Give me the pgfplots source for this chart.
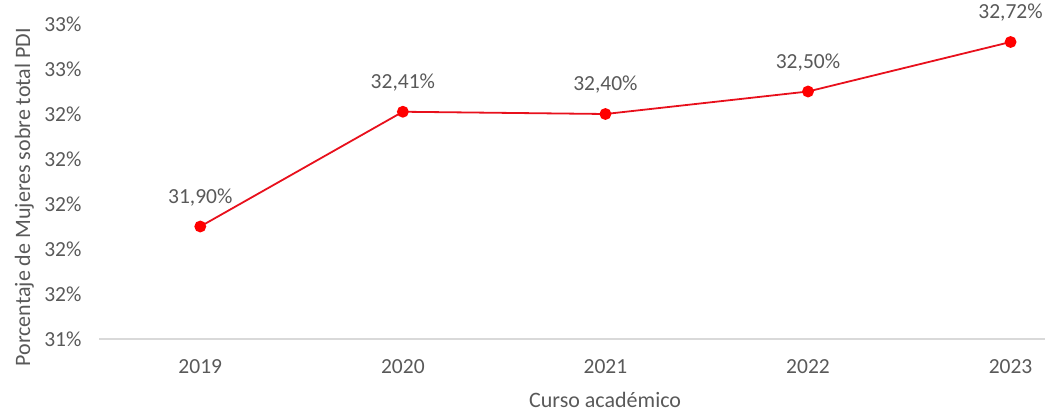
\documentclass[border=0pt]{standalone}
\usepackage{fontspec}
\setmainfont{Carlito}
\usepackage{pgfplots}
\pgfplotsset{compat=1.18}
\definecolor{txt}{HTML}{595959}
\definecolor{axl}{HTML}{D9D9D9}
\definecolor{ln}{HTML}{E8101C}
\begin{document}
\begin{tikzpicture}[x=1pt,y=1pt]
\path[use as bounding box] (0,0) rectangle (1048,413);
\begin{axis}[
  at={(99pt,74pt)}, anchor=south west,
  scale only axis, width=946pt, height=315pt,
  xmin=-0.5, xmax=4.17, ymin=31.4, ymax=32.8,
  axis line style={draw=none},
  xtick={0,1,2,3,4}, xticklabels={2019,2020,2021,2022,2023},
  ytick={31.4,31.6,31.8,32.0,32.2,32.4,32.6,32.8},
  yticklabels={31\%,32\%,32\%,32\%,32\%,32\%,33\%,33\%},
  major tick length=0pt, tick style={draw=none},
  tick label style={font=\fontsize{21.5}{24}\selectfont, text=txt},
  xticklabel style={yshift=-17pt},
  yticklabel style={xshift=-14pt},
  ylabel={Porcentaje de Mujeres sobre total PDI},
  xlabel={Curso académico},
  label style={font=\fontsize{22}{25}\selectfont, text=txt},
  ylabel style={at={(axis description cs:-0.079,0.45)}, anchor=center},
  xlabel style={at={(axis description cs:0.535,-0.194)}, anchor=center},
  nodes near coords, point meta=explicit symbolic,
  every node near coord/.style={font=\fontsize{21.5}{24}\selectfont, text=txt, anchor=center, yshift=29pt},
  clip=false,
]
\draw[axl, line width=1.5pt] (axis cs:-0.5,31.4) -- (axis cs:4.17,31.4);
\addplot[ln, line width=1.8pt, mark=*, mark size=5pt, mark options={fill=red, draw=red}]
  coordinates {(0,31.90)[31,90\%] (1,32.41)[32,41\%] (2,32.40)[32,40\%] (3,32.50)[32,50\%] (4,32.72)[32,72\%]};
\end{axis}
\end{tikzpicture}
\end{document}
